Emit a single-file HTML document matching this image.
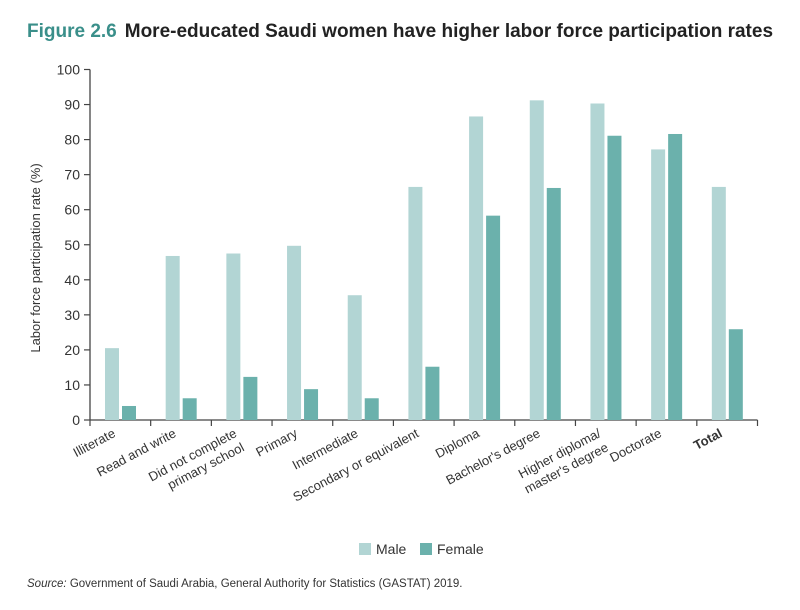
<!DOCTYPE html>
<html><head><meta charset="utf-8"><style>
body{margin:0;background:#fff;}
svg{display:block;font-family:"Liberation Sans",sans-serif;}
</style></head><body>
<svg width="800" height="610" viewBox="0 0 800 610">
<text x="27" y="37" font-size="19" font-weight="bold"><tspan fill="#3a8f8a">Figure 2.6</tspan><tspan fill="#222" dx="8">More-educated Saudi women have higher labor force participation rates</tspan></text>
<text transform="translate(40,258) rotate(-90)" text-anchor="middle" font-size="13" fill="#333">Labor force participation rate (%)</text>
<g id="axes"></g>
<g id="bars"></g>
<g id="xlabels"></g>
<rect x="359" y="543" width="12" height="12" fill="#b2d5d4"/>
<text x="376" y="554" font-size="14" fill="#333">Male</text>
<rect x="420" y="543" width="12" height="12" fill="#6bb1ac"/>
<text x="437" y="554" font-size="14" fill="#333">Female</text>
<text x="27" y="587" font-size="11.5" fill="#333"><tspan font-style="italic">Source:</tspan> Government of Saudi Arabia, General Authority for Statistics (GASTAT) 2019.</text>
</svg>
<script>
const categories=[["Illiterate"],["Read and write"],["Did not complete","primary school"],["Primary"],["Intermediate"],["Secondary or equivalent"],["Diploma"],["Bachelor's degree"],["Higher diploma/","master's degree"],["Doctorate"],["Total"]];
const maleValues=[20.5,46.8,47.5,49.7,35.6,66.5,86.6,91.2,90.3,77.2,66.5];
const femaleValues=[4.0,6.2,12.3,8.8,6.2,15.2,58.3,66.2,81.1,81.6,25.9];
const yTicks=[0,10,20,30,40,50,60,70,80,90,100];
const NS="http://www.w3.org/2000/svg";
const x0=90,x1=757.5,y0=420,y100=69.5;
const bw=(x1-x0)/categories.length;
function yS(v){return y0-(y0-y100)*v/100;}
function xS(i){return x0+i*bw;}
function mk(tag,attrs,parent){const e=document.createElementNS(NS,tag);for(const k in attrs)e.setAttribute(k,attrs[k]);parent.appendChild(e);return e;}
const axes=document.getElementById('axes'),bars=document.getElementById('bars'),xl=document.getElementById('xlabels');
let l=mk('line',{x1:x0,y1:y100,x2:x0,y2:y0,stroke:'#444','stroke-width':1.3},axes);


l=mk('line',{x1:x0,y1:y0,x2:x1,y2:y0,stroke:'#444','stroke-width':1.3},axes);


yTicks.forEach(t=>{
 const tk=mk('line',{x1:x0-6,y1:yS(t),x2:x0,y2:yS(t),stroke:'#444','stroke-width':1.2},axes);
 
 
 const tx=mk('text',{x:x0-10,y:yS(t)+5,'text-anchor':'end','font-size':14,fill:'#333'},axes);
 tx.textContent=t;
 
 
});
for(let i=0;i<=categories.length;i++){
 const tk=mk('line',{x1:xS(i),y1:y0,x2:xS(i),y2:y0+6,stroke:'#444','stroke-width':1.2},axes);
 
 
}
categories.forEach((c,i)=>{
 const m=mk('rect',{x:xS(i)+15,y:yS(maleValues[i]),width:14,height:y0-yS(maleValues[i]),fill:'#b2d5d4'},bars);
 
 
 const f=mk('rect',{x:xS(i)+32,y:yS(femaleValues[i]),width:14,height:y0-yS(femaleValues[i]),fill:'#6bb1ac'},bars);
 
 
 const cx=xS(i)+bw/2-4;
 const t=mk('text',{transform:`translate(${cx},436) rotate(-28)`,'text-anchor':'end','font-size':13,fill:'#333'},xl);
 if(i===categories.length-1)t.setAttribute('font-weight','bold');
 
 
 c.forEach((line,j)=>{const s=mk('tspan',{x:0,dy:j===0?0:16,dx:j===0?0:0},t);s.textContent=line;});
});
</script>
</body></html>
